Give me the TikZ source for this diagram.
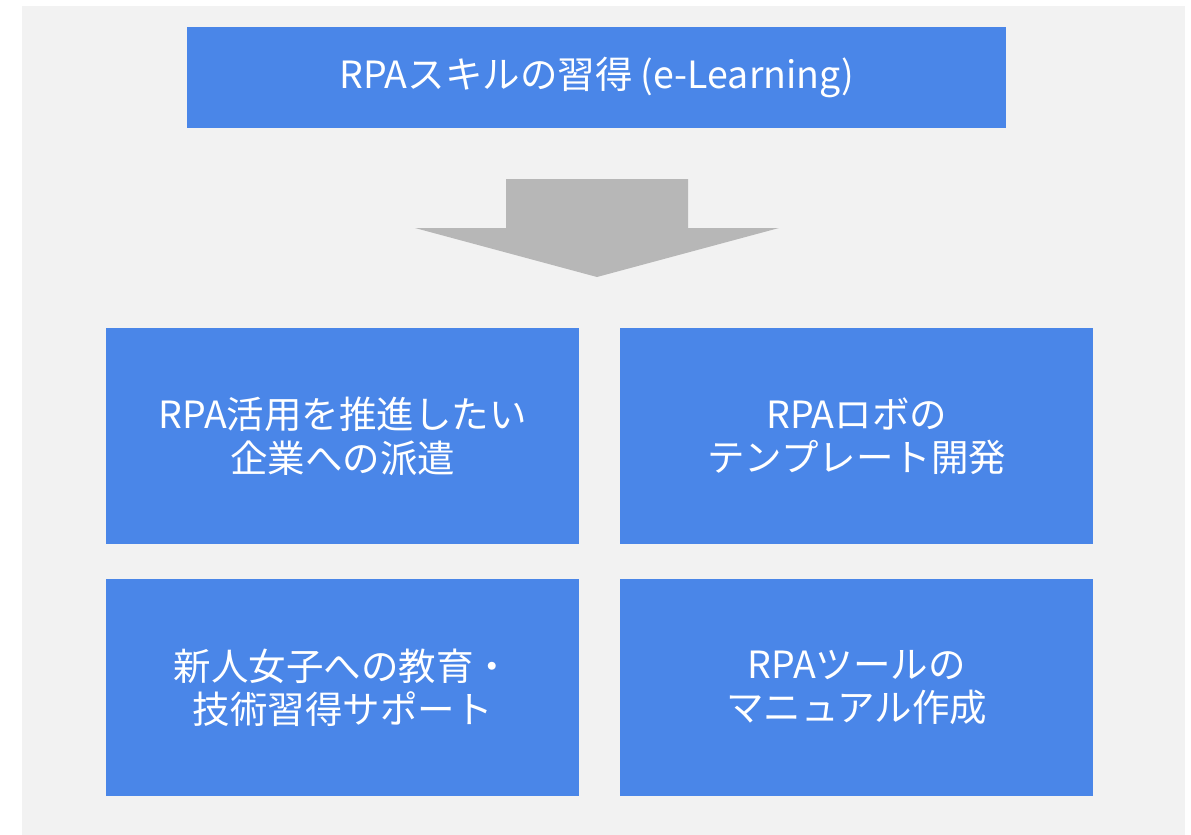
\documentclass[tikz,border=0pt]{standalone}
\usepackage{fontspec}
\setmainfont{Noto Sans CJK JP}
\definecolor{boxblue}{HTML}{4A86E8}
\definecolor{arrowgray}{HTML}{B7B7B7}
\definecolor{bggray}{HTML}{F2F2F2}
\begin{document}
\begin{tikzpicture}[x=1pt,y=-1pt,
  bluebox/.style={fill=boxblue, draw=none, text=white, align=center,
    font=\fontsize{37.5}{43.5}\selectfont, inner sep=0pt, anchor=north west},
]
\useasboundingbox (0,0) rectangle (1191,835);
\fill[white] (0,0) rectangle (1191,835);
\fill[bggray] (22,6) rectangle (1185,835);
\node[bluebox, minimum width=819pt, minimum height=101pt] (top) at (187,27) {RPAスキルの習得 (e-Learning)};
\fill[arrowgray] (506,179) -- (688,179) -- (688,228) -- (779,228) -- (597,277) -- (415,228) -- (506,228) -- cycle;
\node[bluebox, minimum width=473pt, minimum height=216pt] (b1) at (106,328) {RPA活用を推進したい\\企業への派遣};
\node[bluebox, minimum width=473pt, minimum height=216pt] (b2) at (620,328) {RPAロボの\\テンプレート開発};
\node[bluebox, minimum width=473pt, minimum height=217pt] (b3) at (106,579) {新人女子への教育・\\技術習得サポート};
\node[bluebox, minimum width=473pt, minimum height=217pt] (b4) at (620,579) {RPAツールの\\マニュアル作成};
\end{tikzpicture}
\end{document}
